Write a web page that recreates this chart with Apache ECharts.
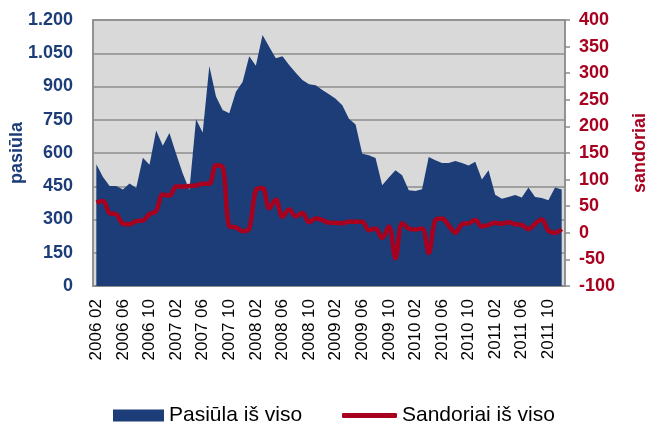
<!DOCTYPE html>
<html>
<head>
<meta charset="utf-8">
<script src="https://cdn.jsdelivr.net/npm/echarts@6/dist/echarts.min.js"></script>
<style>
  body { margin: 0; background: #fff; }
  #chart { width: 648px; height: 424px; }
</style>
</head>
<body>
<div id="chart"></div>
<script>
// menesiai 2006 02 - 2011 12
let months = [
  "2006 02", "2006 03", "2006 04", "2006 05", "2006 06", "2006 07", "2006 08", "2006 09", "2006 10", "2006 11", "2006 12",
  "2007 01", "2007 02", "2007 03", "2007 04", "2007 05", "2007 06", "2007 07", "2007 08", "2007 09", "2007 10", "2007 11", "2007 12",
  "2008 01", "2008 02", "2008 03", "2008 04", "2008 05", "2008 06", "2008 07", "2008 08", "2008 09", "2008 10", "2008 11", "2008 12",
  "2009 01", "2009 02", "2009 03", "2009 04", "2009 05", "2009 06", "2009 07", "2009 08", "2009 09", "2009 10", "2009 11", "2009 12",
  "2010 01", "2010 02", "2010 03", "2010 04", "2010 05", "2010 06", "2010 07", "2010 08", "2010 09", "2010 10", "2010 11", "2010 12",
  "2011 01", "2011 02", "2011 03", "2011 04", "2011 05", "2011 06", "2011 07", "2011 08", "2011 09", "2011 10", "2011 11", "2011 12"
];

let pasiula = [
  549, 492, 451, 451, 435, 462, 442, 579, 547, 702, 633,
  690, 597, 507, 433, 752, 693, 992, 855, 794, 779, 876, 920,
  1037, 994, 1132, 1079, 1027, 1037, 997, 962, 929, 910, 906, 884,
  865, 845, 815, 754, 729, 597, 590, 578, 455, 489, 522, 500,
  432, 429, 437, 582, 567, 555, 555, 564, 555, 544, 560, 480,
  522, 412, 394, 402, 410, 399, 444, 402, 397, 387, 444, 435
];

let sandoriai = [
  57, 60, 37, 35, 17, 16, 22, 23, 35, 41, 72,
  70, 87, 87, 88, 89, 92, 92, 127, 124, 12, 10, 3,
  8, 80, 84, 46, 62, 30, 44, 31, 37, 20, 27, 24,
  19, 19, 18, 21, 21, 21, 5, 8, -10, 12, -48, 18,
  8, 6, 8, -38, 24, 27, 14, 0, 16, 18, 24, 12,
  15, 19, 17, 20, 16, 15, 7, 17, 25, 4, 0, 7
];

let blue = "#1c3d78";
let red = "#a8001f";
let font = "'Liberation Sans', Arial, sans-serif";

let myChart = echarts.init(document.getElementById("chart"));
let option = {
  animation: false,
  grid: {
    left: 93,
    right: 83,
    top: 20,
    bottom: 138,
    outerBoundsMode: "none",
    containLabel: false,
    show: true,
    backgroundColor: "#d9d9d9",
    borderColor: "#8c8c8c",
    borderWidth: 1.5
  },
  legend: [
    {
      data: ["Pasiūla iš viso"],
      left: 108,
      top: 400,
      icon: "rect",
      itemWidth: 51,
      itemHeight: 12,
      textStyle: { fontFamily: font, fontSize: 21, color: "#000" }
    },
    {
      data: ["Sandoriai iš viso"],
      left: 337,
      top: 400,
      icon: "roundRect",
      itemWidth: 55,
      itemHeight: 5,
      textStyle: { fontFamily: font, fontSize: 21, color: "#000" }
    }
  ],
  xAxis: {
    type: "category",
    data: months,
    axisLine: { lineStyle: { color: "#8c8c8c", width: 1.5 } },
    axisTick: { show: false },
    axisLabel: {
      interval: 3,
      rotate: 90,
      margin: 13,
      color: "#000",
      fontFamily: font,
      fontSize: 17
    }
  },
  yAxis: [
    {
      type: "value",
      min: 0,
      max: 1200,
      interval: 150,
      name: "pasiūla",
      nameLocation: "middle",
      nameRotate: 90,
      nameGap: 67,
      nameMoveOverlap: false,
      nameTextStyle: { color: blue, fontFamily: font, fontWeight: "bold", fontSize: 18 },
      axisLine: { show: true, lineStyle: { color: "#8c8c8c", width: 1.5 } },
      axisTick: { show: false },
      splitLine: { lineStyle: { color: "#8c8c8c", width: 1.5 } },
      axisLabel: {
        margin: 20,
        color: blue,
        fontFamily: font,
        fontWeight: "bold",
        fontSize: 18,
        formatter: function (v) {
          return String(v).replace(/\B(?=(\d{3})+(?!\d))/g, ".");
        }
      }
    },
    {
      type: "value",
      min: -100,
      max: 400,
      interval: 50,
      name: "sandoriai",
      nameLocation: "middle",
      nameRotate: 90,
      nameGap: 66,
      nameTextStyle: { color: red, fontFamily: font, fontWeight: "bold", fontSize: 18 },
      axisLine: { show: true, lineStyle: { color: "#8c8c8c", width: 1.5 } },
      axisTick: { show: true, length: 5, lineStyle: { color: "#8c8c8c", width: 1.5 } },
      splitLine: { show: false },
      axisLabel: {
        margin: 14,
        color: red,
        fontFamily: font,
        fontWeight: "bold",
        fontSize: 18
      }
    }
  ],
  series: [
    {
      name: "Pasiūla iš viso",
      type: "line",
      yAxisIndex: 0,
      data: pasiula,
      showSymbol: false,
      lineStyle: { width: 0 },
      itemStyle: { color: blue },
      areaStyle: { color: blue, opacity: 1 }
    },
    {
      name: "Sandoriai iš viso",
      type: "line",
      yAxisIndex: 1,
      data: sandoriai,
      showSymbol: false,
      smooth: 0.35,
      itemStyle: { color: red },
      lineStyle: { color: red, width: 4.5 }
    }
  ]
};
myChart.setOption(option);
</script>
</body>
</html>
